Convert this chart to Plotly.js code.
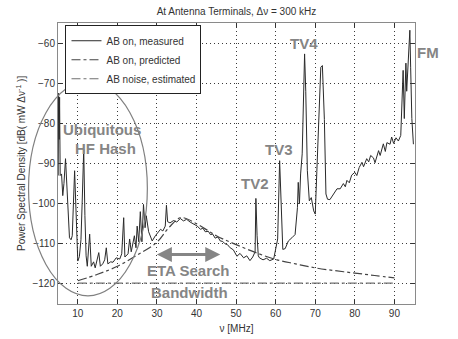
<!DOCTYPE html>
<html>
<head>
<meta charset="utf-8">
<script src="https://cdn.plot.ly/plotly-3.0.1.min.js"></script>
<style>
  body { margin: 0; background: #ffffff; }
  #chart { width: 458px; height: 339px; }
</style>
</head>
<body>
<div id="chart"></div>
<script>
// Measured spectrum (AB on)
const measuredFreq = [
  5.05, 5.15, 5.3, 5.4, 5.55, 5.9, 6.2, 6.5, 6.9, 7.2, 7.5, 7.9, 8.3, 8.6, 9.2, 9.5,
  10.0, 10.4, 10.8, 11.1, 11.5, 11.8, 12.1, 12.4, 13.0, 13.4, 14.0, 14.4, 14.9, 15.3, 15.7,
  16.3, 16.8, 17.2, 17.6, 18.3, 18.9, 19.7, 20.6, 21.1, 21.6, 21.9, 22.7, 23.1, 23.5,
  24.3, 24.7, 25.0, 25.4, 25.8, 26.2, 26.6, 27.0, 27.3, 27.9, 28.8, 29.6, 30.3, 30.9,
  31.5, 32.1, 32.4, 32.7, 33.3, 34.2, 35.0, 35.9, 36.7, 37.5, 38.4, 39.3, 40.2, 41.0,
  41.6, 42.2, 43.0, 43.5, 44.1, 44.7, 45.4, 46.0, 46.6, 47.2, 47.8, 48.5, 49.3, 50.2,
  51.0, 51.9, 52.7, 53.5, 54.2, 54.8, 55.0, 55.3, 55.6, 55.9, 56.8, 57.7, 58.5, 59.5,
  59.9, 60.5, 61.0, 61.3, 61.8, 62.4, 63.2, 64.1, 64.9, 65.5, 65.7, 66.0, 66.3, 66.7,
  67.0, 67.3, 67.6, 68.0, 68.5, 69.0, 69.6, 70.0, 70.4, 70.8, 71.4, 71.8, 72.3, 72.7,
  73.1, 73.7, 74.6, 75.5, 76.3, 77.1, 77.6, 78.0, 78.6, 79.2, 80.0, 80.5, 81.1, 81.8,
  82.2, 83.0, 83.5, 84.0, 84.7, 85.1, 86.0, 86.4, 87.2, 87.7, 88.1, 88.9, 89.3, 89.8,
  90.4, 91.0, 91.6, 92.0, 92.2, 92.5, 92.9, 93.1, 93.5, 93.9, 94.1, 94.4, 94.8
];
const measuredPsd = [
  -93, -72.5, -84, -73.5, -93, -92.6, -98, -95, -88.8, -94, -100, -108.5, -109, -108, -91.8, -100,
  -114.3, -113.2, -109, -100, -86.5, -103, -113, -115.6, -107.6, -115.6, -114.5, -116, -114, -112.2, -115.6,
  -115, -114, -111, -115, -114.5, -114.6, -113.5, -113.8, -112.5, -103.5, -113.3, -112.5, -108.8, -112,
  -108, -111, -105.6, -109.5, -102, -109.5, -100.2, -106, -103, -107, -109.3, -108, -107.2, -106.4,
  -106.8, -105.6, -100.4, -104.5, -104.8, -104.2, -104.6, -103.7, -104.3, -103.9, -104.6, -105.2, -105.6, -106.4,
  -106.1, -107, -106.9, -107.7, -107.6, -108.6, -108.3, -109.3, -109.4, -110, -110.2, -111, -111.5, -113.1,
  -112.4, -113.5, -113, -114.2, -113.3, -112, -98.7, -108, -113, -113.5, -114, -113.6, -114.2, -113.8,
  -111.4, -108.8, -89.3, -100, -111.4, -111.2, -109.3, -108.5, -107.7, -101, -94.7, -100, -92.6, -87.6,
  -71, -62.7, -72, -91.8, -99.3, -98.5, -101.8, -102.6, -92, -79.3, -66, -65.6, -79, -97.6,
  -98.9, -99, -97.5, -96.3, -96.3, -95, -95.8, -94.2, -94.8, -92.9, -92.2, -93, -91, -89.7,
  -90.8, -88.8, -89.6, -88, -88.6, -89.8, -86.8, -88, -85.1, -87, -84.8, -85.2, -83.4, -85,
  -83.6, -84.4, -83, -71, -66.8, -78.8, -65, -72, -62.7, -56.8, -66, -78.8, -85.2
];

// AB on, predicted
const predictedFreq = [10, 15, 20, 25, 30, 33, 36, 40, 45, 50, 55, 60, 65, 70, 75, 80, 85, 90];
const predictedPsd = [-119.2, -117.6, -115.6, -112.8, -109.6, -106, -103.5, -105, -108, -110.2, -112.2, -113.9, -115, -116, -116.7, -117.3, -117.9, -118.5];

// AB noise, estimated
const noiseFreq = [10, 90];
const noisePsd = [-119.8, -119.8];

const xTicks = [10, 20, 30, 40, 50, 60, 70, 80, 90];
const yTicks = [-120, -110, -100, -90, -80, -70, -60];

const font = 'Liberation Sans, Arial, sans-serif';
const labelGray = '#858585';

const traces = [
  {
    x: measuredFreq, y: measuredPsd, type: 'scatter', mode: 'lines',
    name: 'AB on, measured',
    line: { color: '#2a2a2a', width: 1 },
  },
  {
    x: predictedFreq, y: predictedPsd, type: 'scatter', mode: 'lines',
    name: 'AB on, predicted',
    line: { color: '#444444', width: 1.2, dash: 'dashdot', shape: 'spline' },
  },
  {
    x: noiseFreq, y: noisePsd, type: 'scatter', mode: 'lines',
    name: 'AB noise, estimated',
    line: { color: '#707070', width: 1.2, dash: 'dashdot' },
  },
];

const axisCommon = {
  showline: true, linecolor: '#8a8a8a', linewidth: 1, mirror: 'ticks',
  ticks: 'inside', ticklen: 4, tickcolor: '#333',
  showgrid: true, gridcolor: '#3a3a3a', griddash: '1px,3px', gridwidth: 1,
  zeroline: false,
  tickfont: { family: font, size: 10, color: '#333' },
};

const layout = {
  width: 458, height: 339,
  margin: { l: 57.5, r: 42.5, t: 22.7, b: 35.3 },
  paper_bgcolor: '#ffffff', plot_bgcolor: '#ffffff',
  font: { family: font, size: 10, color: '#333' },
  title: {
    text: 'At Antenna Terminals, Δν = 300 kHz',
    font: { family: font, size: 10, color: '#333' },
    x: 0.5, xref: 'paper', y: 1 - 11 / 339, yref: 'container', yanchor: 'middle',
  },
  xaxis: Object.assign({}, axisCommon, {
    range: [5, 95.2], tickvals: xTicks,
    title: { text: 'ν [MHz]', font: { family: font, size: 10, color: '#333' }, standoff: 6 },
  }),
  yaxis: Object.assign({}, axisCommon, {
    range: [-125, -55], tickvals: yTicks,
  }),
  showlegend: true,
  legend: {
    x: 0.021, y: 0.992, xanchor: 'left', yanchor: 'top',
    bgcolor: '#ffffff', bordercolor: '#222', borderwidth: 1,
    font: { family: font, size: 10, color: '#333' },
  },
  shapes: [
    {
      type: 'circle', xref: 'paper', yref: 'paper',
      x0: -0.0825, x1: 0.2503, y0: 0.029, y1: 0.7925,
      line: { color: '#808080', width: 1.2 },
    },
  ],
  annotations: [
    { x: 16.2, y: -81.5, text: 'Ubiquitous' },
    { x: 16.9, y: -86.3, text: 'HF Hash' },
    { x: 54.7, y: -95.1, text: 'TV2' },
    { x: 60.9, y: -86.6, text: 'TV3' },
    { x: 67.2, y: -60.1, text: 'TV4' },
    { x: 38.0, y: -116.7, text: 'ETA Search' },
    { x: 38.2, y: -122.1, text: 'Bandwidth' },
  ].map(a => Object.assign({
    xref: 'x', yref: 'y', showarrow: false, xanchor: 'center', yanchor: 'middle',
    font: { family: font, size: 15, color: labelGray, weight: 'bold' },
  }, a)).concat([
    {
      xref: 'paper', yref: 'paper', x: 1.0378, y: 0.8947, text: 'FM', showarrow: false,
      xanchor: 'center', yanchor: 'middle',
      font: { family: font, size: 15, color: labelGray, weight: 'bold' },
    },
    {
      // y axis title, placed by hand to sit where the original one sits
      xref: 'paper', yref: 'paper', x: -0.105, y: 0.5, textangle: -90,
      xanchor: 'center', yanchor: 'middle', showarrow: false,
      text: 'Power Spectral Density [dB( mW Δν<sup>-1</sup> )]',
      font: { family: font, size: 10, color: '#333' },
    },
    {
      xref: 'x', yref: 'y', axref: 'x', ayref: 'y',
      x: 46.0, y: -112.7, ax: 29.6, ay: -112.7, text: '',
      showarrow: true, arrowside: 'end+start', arrowhead: 2, arrowsize: 1,
      arrowwidth: 3, arrowcolor: labelGray,
    },
  ]),
};

Plotly.newPlot('chart', traces, layout, { displayModeBar: false, staticPlot: true });
</script>
</body>
</html>
